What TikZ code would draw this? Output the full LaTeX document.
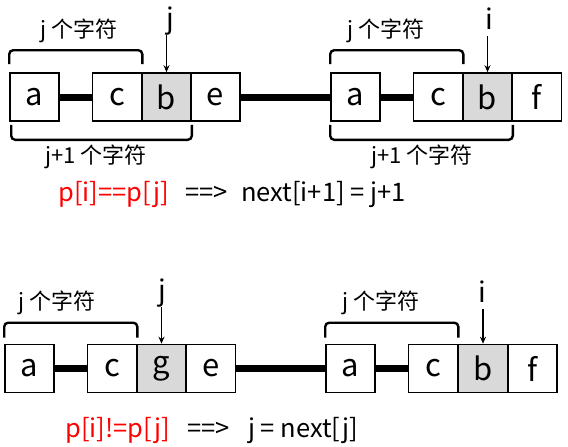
\documentclass[tikz,border=0pt]{standalone}
\usepackage{fontspec}
\setmainfont{Noto Sans CJK SC}
\usetikzlibrary{arrows.meta}
\definecolor{cellgray}{HTML}{D9D9D9}
\tikzset{
  cell/.style={draw, line width=1.6pt, minimum width=49pt, minimum height=48pt, inner sep=0pt,
    font=\fontsize{31}{36}\selectfont},
  hl/.style={cell, fill=cellgray},
  link/.style={line width=7pt},
  brk/.style={line width=2.4pt, rounded corners=4pt},
  lbl/.style={inner sep=0pt, font=\fontsize{22}{26}\selectfont},
  ptr/.style={inner sep=1pt, text depth=6pt, font=\fontsize{28}{32}\selectfont},
  arr/.style={line width=1.2pt, -{Stealth[length=7pt,width=6pt]}},
  eq/.style={anchor=base west, inner sep=0pt, font=\fontsize{25.5}{30}\selectfont},
}
\begin{document}
\begin{tikzpicture}[x=1pt,y=-1pt]
\useasboundingbox (0,0) rectangle (568,447);
% ---- top row
\node[cell] (a1) at (34.5,97) {a};
\node[cell] (c1) at (117,97) {c};
\node[hl]   (b1) at (166.5,97) {b};
\node[cell] (e1) at (215.5,97) {e};
\node[cell] (a2) at (355.5,97) {a};
\node[cell] (c2) at (438,97) {c};
\node[hl]   (b2) at (487.5,97) {b};
\node[cell] (f2) at (537,97) {f};
\draw[link] (a1.east) -- (c1.west);
\draw[link] (e1.east) -- (a2.west);
\draw[link] (a2.east) -- (c2.west);
% braces top row
\draw[brk] ([yshift=8pt]a1.north west) |- ([yshift=22pt]c1.north east) -- ([yshift=8pt]c1.north east);
\draw[brk] ([xshift=2pt,yshift=-3pt]a1.south west) |- ([yshift=-18pt]b1.south east) -- ([yshift=-3pt]b1.south east);
\draw[brk] ([yshift=8pt]a2.north west) |- ([yshift=22pt]c2.north east) -- ([yshift=8pt]c2.north east);
\draw[brk] ([yshift=-3pt]a2.south west) |- ([yshift=-18pt]b2.south east) -- ([yshift=-3pt]b2.south east);
\node[lbl] (l1) at (79,31) {j 个字符};
\node[lbl] (l2) at (96,157) {j+1 个字符};
\node[lbl] (l3) at (386,31) {j 个字符};
\node[lbl] (l4) at (422,157) {j+1 个字符};
% pointers
\node[ptr, anchor=base] (pj1) at (170,28) {j};
\node[ptr, anchor=base] (pi1) at (489,29) {i};
\draw[arr] (pj1.south -| b1.north) -- (b1.north);
\draw[arr] (pi1.south -| b2.north) -- (b2.north);
% equation
\node[eq, text=red] (q1) at (58,201) {p[i]==p[j]};
\node[eq] (q2) at (185,201) {==>};
\node[eq] (q3) at (241,201) {next[i+1] = j+1};
% ---- bottom row
\node[cell] (a3) at (29.5,368.5) {a};
\node[cell] (c3) at (112,368.5) {c};
\node[hl]   (g3) at (161.5,368.5) {g};
\node[cell] (e3) at (211,368.5) {e};
\node[cell] (a4) at (350.5,368.5) {a};
\node[cell] (c4) at (433,368.5) {c};
\node[hl]   (b4) at (483,368.5) {b};
\node[cell] (f4) at (532.5,368.5) {f};
\draw[link] (a3.east) -- (c3.west);
\draw[link] (e3.east) -- (a4.west);
\draw[link] (a4.east) -- (c4.west);
\draw[brk] ([yshift=6pt]a3.north west) |- ([yshift=21pt]c3.north east) -- ([yshift=6pt]c3.north east);
\draw[brk] ([yshift=6pt]a4.north west) |- ([yshift=21pt]c4.north east) -- ([yshift=6pt]c4.north east);
\node[lbl] (l5) at (57,303) {j 个字符};
\node[lbl] (l6) at (381,303) {j 个字符};
\node[ptr, anchor=base] (pj2) at (162,300) {j};
\node[ptr, anchor=base] (pi2) at (482,302) {i};
\draw[arr] (pj2.south -| g3.north) -- (g3.north);
\draw[arr] (pi2.south -| b4.north) -- (b4.north);
\node[eq, text=red] (q4) at (65,437) {p[i]!=p[j]};
\node[eq] (q5) at (187,437) {==>};
\node[eq] (q6) at (248,437) {j = next[j]};
\end{tikzpicture}
\end{document}
